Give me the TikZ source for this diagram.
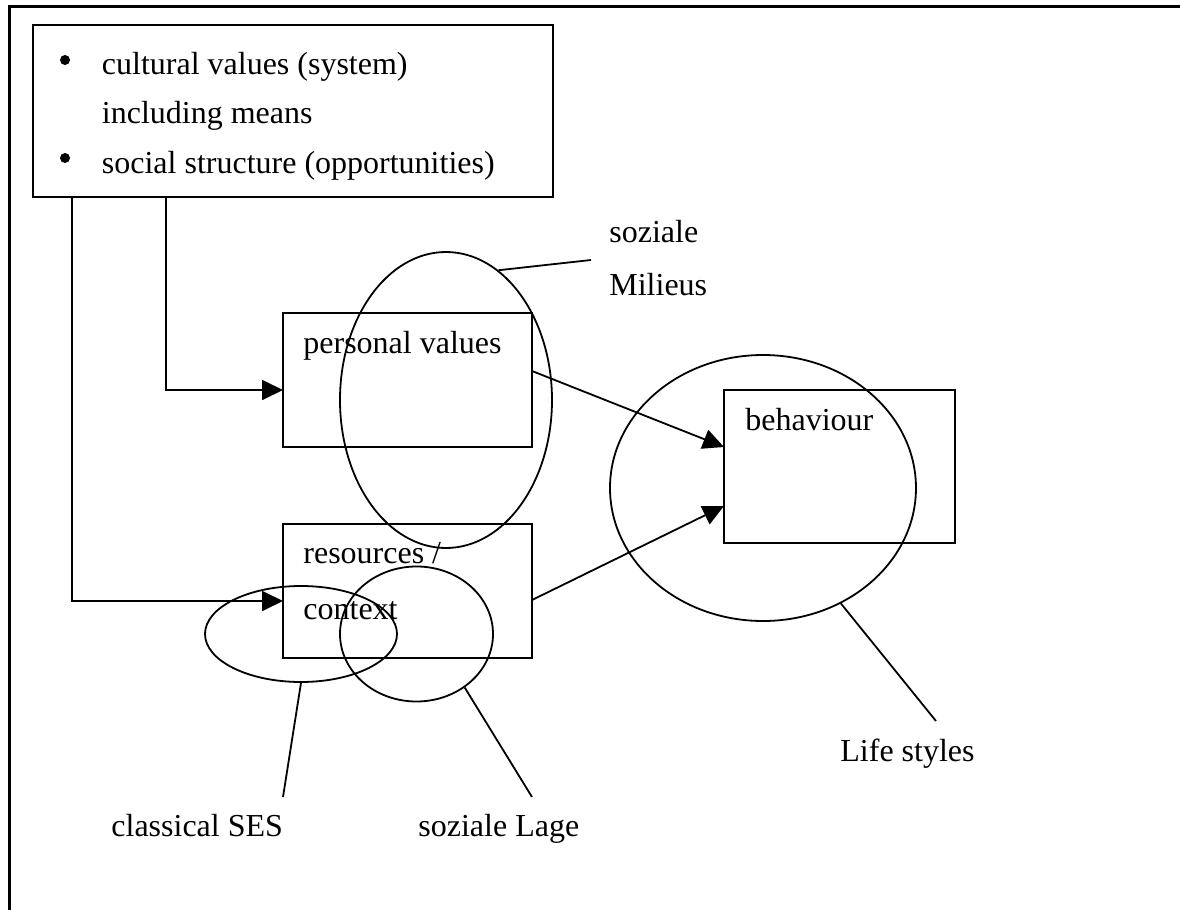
\documentclass[tikz,border=0pt]{standalone}
\usepackage{fontspec}
\setmainfont{Liberation Serif}
\usetikzlibrary{arrows.meta,shapes.geometric}
\begin{document}
\begin{tikzpicture}[x=0.5pt,y=-0.5pt,
  box/.style={draw, line width=1pt, rectangle, inner sep=0pt},
  ell/.style={draw, ellipse, line width=0.9pt, inner sep=0pt},
  txt/.style={anchor=base west, inner sep=0pt, font=\fontsize{16}{19}\selectfont},
  bul/.style={circle, fill=black, inner sep=0pt, minimum size=5pt},
  conn/.style={line width=0.9pt},
  arr/.style={line width=0.9pt, -{Triangle[length=10.5pt,width=10pt]}}
]
\useasboundingbox (0,0) rectangle (1180,910);
\coordinate (fa) at (9.5,910);
\coordinate (fb) at (9.5,6.5);
\coordinate (fc) at (1180,6.5);
\draw[line width=1.5pt] (fa) -- (fb) -- (fc);

% boxes
\node[box, minimum width=260pt, minimum height=86pt] (top) at (293,111) {};
\node[box, minimum width=124.5pt, minimum height=67pt] (pv) at (407.5,380) {};
\node[box, minimum width=124.5pt, minimum height=67pt] (res) at (407.5,591) {};
\node[box, minimum width=115.5pt, minimum height=76.5pt] (beh) at (839.5,466.5) {};

% ellipses
\node[ell, minimum width=106pt, minimum height=148pt] (mil) at (446,400) {};
\node[ell, minimum width=96pt, minimum height=48pt] (ses) at (301,634) {};
\node[ell, minimum width=76.5pt, minimum height=67.5pt] (lage) at (416.5,634) {};
\node[ell, minimum width=153pt, minimum height=133pt] (ls) at (763,488) {};

% texts
\node[bul] (b1) at (65,60) {};
\node[txt] (t1) at (101.5,75) {cultural values (system)};
\node[txt] (t2) at (101.5,123) {including means};
\node[bul] (b3) at (65,158) {};
\node[txt] (t3) at (101.5,173) {social structure (opportunities)};
\node[txt] (tpv) at (303,353) {personal values};
\node[txt] (tres) at (303,563) {resources /};
\node[txt] (tctx) at (303,619) {context};
\node[txt] (tbeh) at (745,430) {behaviour};
\node[txt] (tsoz) at (609,242) {soziale};
\node[txt] (tmil) at (609,295) {Milieus};
\node[txt] (tses) at (111,836) {classical SES};
\node[txt] (tlage) at (418,836) {soziale Lage};
\node[txt] (tls) at (840,761) {Life styles};

% connectors
\coordinate (c1) at (166,197);
\coordinate (c2) at (72,197);
\coordinate (pvin) at (283,390);
\coordinate (resin) at (283,601);
\draw[arr] (c1) |- (pvin);
\draw[arr] (c2) |- (resin);
\coordinate (pvout) at (532,371);
\coordinate (behin1) at (724,447);
\coordinate (resout) at (532,600);
\coordinate (behin2) at (724,506);
\draw[arr] (pvout) -- (behin1);
\draw[arr] (resout) -- (behin2);

% callouts
\coordinate (milend) at (591,260);
\draw[conn] (mil.68) -- (milend);
\coordinate (sesend) at (283,797);
\draw[conn] (ses.south) -- (sesend);
\coordinate (lageend) at (532,797);
\draw[conn] (lage.-48) -- (lageend);
\coordinate (lsend) at (936,721);
\draw[conn] (ls.-56) -- (lsend);
\end{tikzpicture}
\end{document}
